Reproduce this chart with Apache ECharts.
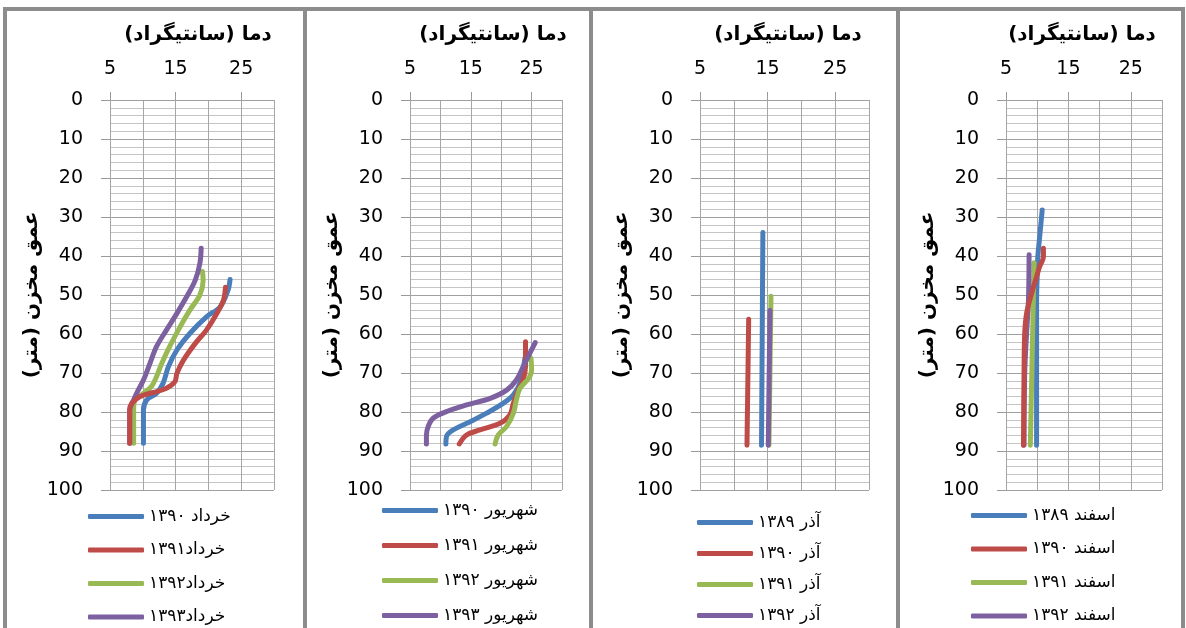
<!DOCTYPE html>
<html>
<head>
<meta charset="utf-8">
<script src="https://cdn.jsdelivr.net/npm/echarts@6/dist/echarts.min.js"></script>
<style>
html,body{margin:0;padding:0;background:#fff;}
#chart{width:1186px;height:628px;}
</style>
</head>
<body>
<div id="chart"></div>
<script>
// ---- data: [temperature (°C), depth (m)] ----
const xTickLabels = [5, 15, 25];
const titleText = 'دما (سانتیگراد)';
const yName = 'عمق مخزن (متر)';

const khordadNames = ['خرداد ۱۳۹۰', 'خرداد۱۳۹۱', 'خرداد۱۳۹۲', 'خرداد۱۳۹۳'];
const khordad1390 = [[23.3,46],[23.0,48.7],[21.8,53],[19.7,55.6],[17.2,59.8],[15.2,64.1],[13.9,68.4],[13.1,72.6],[12.1,75.2],[10.6,76.9],[10.1,79.5],[10.1,88]];
const khordad1391 = [[22.6,48],[22.3,51.3],[21.3,54.7],[19.7,59],[18.0,62.4],[16.2,66.7],[15.2,70.1],[14.9,72.2],[13.6,73.9],[11.6,75.0],[9.6,76],[8.3,77.8],[8.0,79.5],[8.0,88]];
const khordad1392 = [[19.1,44],[19.2,46.2],[18.7,50],[17.2,53.8],[15.7,58.1],[14.1,63.2],[12.9,67.5],[12.1,70.9],[11.3,73.5],[9.8,75.6],[8.8,76.9],[8.6,79.5],[8.6,88]];
const khordad1393 = [[18.9,38],[18.7,41.9],[18.0,46.2],[16.7,50.4],[15.2,54.7],[13.6,59],[12.1,63.2],[11.1,67.5],[10.1,71.8],[9.3,74.4],[8.6,76.9],[8.0,79.5],[8.0,88]];

const shahrivarNames = ['شهریور ۱۳۹۰', 'شهریور ۱۳۹۱', 'شهریور ۱۳۹۲', 'شهریور ۱۳۹۳'];
const shahrivar1390 = [[23.9,66.2],[23.6,69.2],[23.1,72.6],[22.0,75.6],[20.3,77.8],[17.6,80.3],[14.9,82.5],[12.1,84.6],[11.0,86.3],[10.9,88.2]];
const shahrivar1391 = [[24.0,62],[24.0,68.4],[23.6,71.8],[22.8,74.4],[22.0,77.8],[21.4,80.8],[19.8,82.9],[16.5,84.6],[14.3,85.9],[13.1,88.2]];
const shahrivar1392 = [[24.9,66.2],[25.0,69.2],[24.5,71.4],[23.1,73.9],[22.5,76.9],[22.0,80.3],[20.9,83.7],[19.5,85.9],[19.0,88.2]];
const shahrivar1393 = [[25.6,62.2],[24.7,65],[23.6,68.4],[22.5,71.8],[20.9,74.4],[18.2,76.5],[14.3,78.2],[11.0,79.9],[8.8,81.6],[8.0,83.7],[7.7,85.9],[7.7,88.2]];

const azarNames = ['آذر ۱۳۸۹', 'آذر ۱۳۹۰', 'آذر ۱۳۹۱', 'آذر ۱۳۹۲'];
const azar1389 = [[14.3,34],[14.1,88.5]];
const azar1390 = [[12.2,56.2],[11.95,88.5]];
const azar1391 = [[15.5,50.3],[15.2,88.5]];
const azar1392 = [[15.35,54],[15.1,88.5]];

const esfandNames = ['اسفند ۱۳۸۹', 'اسفند ۱۳۹۰', 'اسفند ۱۳۹۱', 'اسفند ۱۳۹۲'];
const esfand1389 = [[10.8,28.2],[10.65,30.8],[10.4,35],[10.1,40.2],[10.0,45.3],[9.9,51.3],[9.9,88.5]];
const esfand1390 = [[11.0,38],[11.0,40.2],[10.4,42.7],[9.9,45.3],[9.1,49.6],[8.3,54.7],[8.0,59.8],[7.9,68.4],[7.8,88.5]];
const esfand1391 = [[9.5,41.7],[8.9,88.5]];
const esfand1392 = [[8.7,39.7],[8.6,51.3],[8.3,59.8],[8.0,70],[7.9,88.5]];

const colors = ['#4a7ebb', '#be4b48', '#98b954', '#7d60a0'];

// ---- layout ----
const panels = [
  {gridLeft:110, gridWidth:164, titleX:193, legendLeft:88, legendTop:508, legendGap:16.5, names:khordadNames, data:[khordad1390,khordad1391,khordad1392,khordad1393], redTop:true},
  {gridLeft:410, gridWidth:152, titleX:488, legendLeft:382, legendTop:502, legendGap:18, names:shahrivarNames, data:[shahrivar1390,shahrivar1391,shahrivar1392,shahrivar1393], redTop:false},
  {gridLeft:700, gridWidth:169, titleX:783, legendLeft:697, legendTop:514, legendGap:14, names:azarNames, data:[azar1389,azar1390,azar1391,azar1392], redTop:false},
  {gridLeft:1006, gridWidth:156, titleX:1077, legendLeft:971, legendTop:507, legendGap:16.5, names:esfandNames, data:[esfand1389,esfand1390,esfand1391,esfand1392], redTop:true}
];

const font = 'DejaVu Sans';
const xAxes = panels.map((p, i) => ({
  gridIndex: i, type: 'value', position: 'top', min: 5, max: 30, interval: 5,
  axisLine: {show: false},
  axisTick: {show: false},
  axisLabel: {customValues: xTickLabels, fontSize: 19, color: '#000', margin: 21, fontFamily: font,
    formatter: v => (xTickLabels.indexOf(v) >= 0 ? String(v) : '')},
  splitLine: {show: true, lineStyle: {color: '#a6a6a6', width: 1}}
}));
// tick-only companion axes (marks above the grid at labelled values)
panels.forEach((p, i) => {
  xAxes.push({
    gridIndex: i, type: 'value', position: 'top', min: 5, max: 30, interval: 5,
    axisLine: {show: false},
    axisTick: {show: true, customValues: xTickLabels, length: 8, lineStyle: {color: '#9a9a9a'}},
    axisLabel: {show: false},
    splitLine: {show: false}
  });
});

const option = {
  animation: false,
  backgroundColor: '#ffffff',
  title: panels.map(p => ({
    text: titleText, left: p.titleX, top: 20, textAlign: 'center',
    textStyle: {fontSize: 20, fontWeight: 'bold', color: '#000', fontFamily: font}
  })),
  grid: panels.map(p => ({left: p.gridLeft, width: p.gridWidth, top: 100, height: 390, containLabel: false})),
  xAxis: xAxes,
  yAxis: panels.map((p, i) => ({
    gridIndex: i, type: 'value', inverse: true, min: 0, max: 100, interval: 10,
    name: yName, nameLocation: 'middle', nameGap: 68,
    nameTextStyle: {fontSize: 20, fontWeight: 'bold', color: '#000', fontFamily: font},
    axisLine: {show: false},
    axisTick: {show: true, length: 9, lineStyle: {color: '#9a9a9a'}},
    axisLabel: {fontSize: 19, color: '#000', margin: 27, fontFamily: font},
    splitLine: {show: true, lineStyle: {color: '#a0a0a0', width: 1}},
    minorTick: {show: false, splitNumber: 5},
    minorSplitLine: {show: true, lineStyle: {color: '#c4c4c4', width: 1}}
  })),
  legend: panels.map(p => ({
    orient: 'vertical', left: p.legendLeft, top: p.legendTop, itemGap: p.legendGap,
    padding: 0, height: 125,
    itemWidth: 56, itemHeight: 5, icon: 'roundRect', selectedMode: false,
    data: p.names,
    textStyle: {fontSize: 17, color: '#000', fontFamily: font}
  })),
  series: [],
  graphic: []
};

panels.forEach((p, i) => {
  p.data.forEach((d, k) => {
    option.series.push({
      name: p.names[k], type: 'line', xAxisIndex: i, yAxisIndex: i,
      data: d, showSymbol: false, symbol: 'none', smooth: 0.35,
      z: (p.redTop && k === 1) ? 4 : 2 + k * 0.1,
      color: colors[k],
      lineStyle: {width: 5, color: colors[k], cap: 'round', join: 'round'}
    });
  });
});

// frame lines (decoration)
const frameColor = '#8c8c8c';
option.graphic.push({type: 'line', shape: {x1: 3, y1: 9, x2: 1185, y2: 9}, style: {stroke: frameColor, lineWidth: 4}, silent: true});
[5, 305, 591, 898, 1183].forEach(x => {
  option.graphic.push({type: 'line', shape: {x1: x, y1: 7, x2: x, y2: 628}, style: {stroke: frameColor, lineWidth: 4}, silent: true});
});

const chart = echarts.init(document.getElementById('chart'), null, {renderer: 'canvas'});
chart.setOption(option);
</script>
</body>
</html>
